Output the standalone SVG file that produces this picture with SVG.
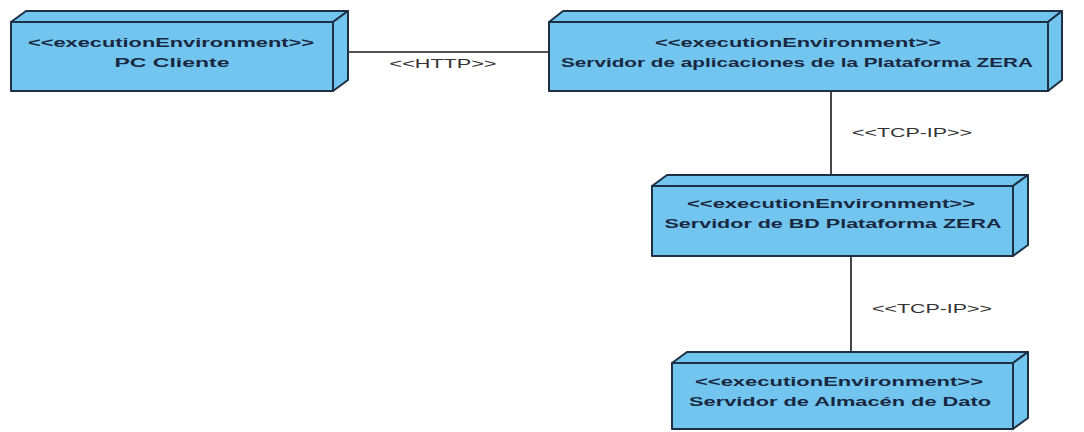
<svg xmlns="http://www.w3.org/2000/svg" width="1084" height="432" viewBox="0 0 1084 432">
<style>
.face{fill:#71c5ef;stroke:#1d3044;stroke-width:2;stroke-linejoin:round}
.st{font-family:"Liberation Sans",Arial,sans-serif;font-weight:bold;font-size:12.5px;fill:#1a2740;text-anchor:middle}
.conn{stroke:#1a1a1a;stroke-width:1.6;fill:none}
.lbl{font-family:"Liberation Sans",Arial,sans-serif;font-size:12.5px;fill:#333;text-anchor:middle}
</style>
<rect width="1084" height="432" fill="#fff"/>
<g id="connectors">
<line class="conn" x1="348" y1="52" x2="549" y2="52"/>
<text class="lbl" x="443" y="68" textLength="107" lengthAdjust="spacingAndGlyphs">&lt;&lt;HTTP&gt;&gt;</text>
<line class="conn" x1="831" y1="91" x2="831" y2="175"/>
<text class="lbl" x="912" y="137" textLength="120" lengthAdjust="spacingAndGlyphs">&lt;&lt;TCP-IP&gt;&gt;</text>
<line class="conn" x1="851" y1="256" x2="851" y2="352"/>
<text class="lbl" x="932" y="313" textLength="120" lengthAdjust="spacingAndGlyphs">&lt;&lt;TCP-IP&gt;&gt;</text>
</g>
<g id="node-pc-cliente">
<polygon class="face" points="11,22 26,11 348,11 333,22"/>
<polygon class="face" points="333,22 348,11 348,80 333,91"/>
<rect class="face" x="11" y="22" width="322" height="69"/>
<text class="st" x="171" y="47" textLength="286" lengthAdjust="spacingAndGlyphs">&lt;&lt;executionEnvironment&gt;&gt;</text>
<text class="st" x="172" y="67" textLength="115" lengthAdjust="spacingAndGlyphs">PC Cliente</text>
</g>
<g id="node-servidor-app">
<polygon class="face" points="549,22 563,11 1062,11 1048,22"/>
<polygon class="face" points="1048,22 1062,11 1062,80 1048,91"/>
<rect class="face" x="549" y="22" width="499" height="69"/>
<text class="st" x="798" y="47" textLength="286" lengthAdjust="spacingAndGlyphs">&lt;&lt;executionEnvironment&gt;&gt;</text>
<text class="st" x="797" y="67" textLength="472" lengthAdjust="spacingAndGlyphs">Servidor de aplicaciones de la Plataforma ZERA</text>
</g>
<g id="node-servidor-bd">
<polygon class="face" points="652,186 667,175 1028,175 1013,186"/>
<polygon class="face" points="1013,186 1028,175 1028,245 1013,256"/>
<rect class="face" x="652" y="186" width="361" height="70"/>
<text class="st" x="831" y="208" textLength="288" lengthAdjust="spacingAndGlyphs">&lt;&lt;executionEnvironment&gt;&gt;</text>
<text class="st" x="833" y="228" textLength="337" lengthAdjust="spacingAndGlyphs">Servidor de BD Plataforma ZERA</text>
</g>
<g id="node-almacen">
<polygon class="face" points="672,363 687,352 1028,352 1013,363"/>
<polygon class="face" points="1013,363 1028,352 1028,418 1013,429"/>
<rect class="face" x="672" y="363" width="341" height="66"/>
<text class="st" x="839" y="386" textLength="288" lengthAdjust="spacingAndGlyphs">&lt;&lt;executionEnvironment&gt;&gt;</text>
<text class="st" x="840" y="406" textLength="302" lengthAdjust="spacingAndGlyphs">Servidor de Almacén de Dato</text>
</g>
</svg>
